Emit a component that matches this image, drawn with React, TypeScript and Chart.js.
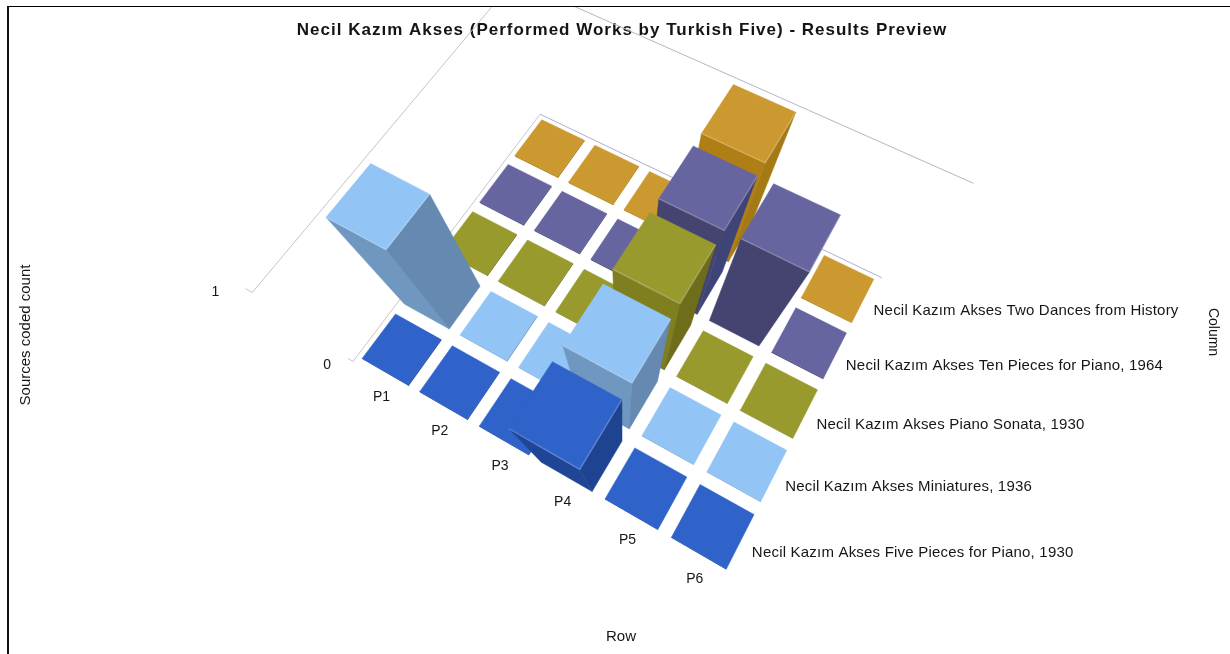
import React, { useEffect, useRef } from "react";
import { Chart, DatasetController, PointElement, LinearScale, Title } from "chart.js";

const chartTitle = "Necil Kazım Akses (Performed Works by Turkish Five) - Results Preview";
const rowLabels = ["P1", "P2", "P3", "P4", "P5", "P6"];
const seriesLabels = [
  "Necil Kazım Akses Five Pieces for Piano, 1930",
  "Necil Kazım Akses Miniatures, 1936",
  "Necil Kazım Akses Piano Sonata, 1930",
  "Necil Kazım Akses Ten Pieces for Piano, 1964",
  "Necil Kazım Akses Two Dances from History",
];
const fivePieces = [0, 0, 0, 1, 0, 0];
const miniatures = [1, 0, 0, 1, 0, 0];
const pianoSonata = [0, 0, 0, 1, 0, 0];
const tenPieces = [0, 0, 0, 1, 1, 0];
const twoDances = [0, 0, 0, 1, 0, 0];
const seriesValues = [fivePieces, miniatures, pianoSonata, tenPieces, twoDances];
const valueTicks = [0, 1];

// top, low-column side and high-row side of each series' columns
const topColors = ["#2f63c9", "#92c4f5", "#989a2e", "#66659f", "#cc9930"];
const sideAColors = ["#1f4596", "#7097bf", "#7f7f1f", "#45436f", "#af7f16"];
const sideBColors = ["#1e4390", "#6589b0", "#6e6e1a", "#3f4478", "#a57a15"];

// Perspective camera: rows 3 x 4 acting on (a, b, height, 1)
const CAMERA = [
  [291.07, 255.25, -169.3, 363],
  [153.63, -220.98, -148.4, 359],
  [-0.09907, 0.14068, -0.272, 1],
];
const CELL_GAP = 0.1;
const FLAT_HEIGHT = 0.012;
const CAMERA_ROW = 4.48;
const CANVAS_LEFT = 8;
const CANVAS_TOP = 7;
const CANVAS_WIDTH = 1228;
const CANVAS_HEIGHT = 647;

type P = { x: number; y: number };

function project(row: number, col: number, height: number): P {
  const a = (row - CELL_GAP) / (rowLabels.length - 2 * CELL_GAP);
  const b = (col - CELL_GAP) / (seriesLabels.length - 2 * CELL_GAP);
  const [r0, r1, r2] = CAMERA.map((m) => m[0] * a + m[1] * b + m[2] * height + m[3]);
  return { x: r0 / r2, y: r1 / r2 };
}

function toPixels(chart: Chart, p: P): P {
  return { x: chart.scales.x.getPixelForValue(p.x), y: chart.scales.y.getPixelForValue(p.y) };
}

function area(pts: P[]): number {
  let s = 0;
  pts.forEach((p, i) => {
    const q = pts[(i + 1) % pts.length];
    s += p.x * q.y - q.x * p.y;
  });
  return s / 2;
}

function fillFace(ctx: CanvasRenderingContext2D, pts: P[], color: string) {
  ctx.beginPath();
  pts.forEach((p, i) => (i ? ctx.lineTo(p.x, p.y) : ctx.moveTo(p.x, p.y)));
  ctx.closePath();
  ctx.fillStyle = color;
  ctx.fill();
  ctx.strokeStyle = color;
  ctx.lineWidth = 0.5;
  ctx.stroke();
}

// One dataset per series: each value becomes a perspective column over its grid cell.
// Chart.js paints datasets last to first, so the far series goes down first.
class Column3DController extends DatasetController {
  static id = "column3d";
  static defaults = { dataElementType: "point" };
  update() {}
  draw() {
    const chart = this.chart;
    const ctx = chart.ctx;
    const col = this.index;
    const values = this.getDataset().data as number[];
    const order = values
      .map((_, i) => i)
      .sort((p, q) => Math.abs(q + 0.5 - CAMERA_ROW) - Math.abs(p + 0.5 - CAMERA_ROW));
    for (const i of order) {
      const v = values[i];
      const h = Math.max(v, FLAT_HEIGHT);
      const r0 = i + CELL_GAP;
      const r1 = i + 1 - CELL_GAP;
      const c0 = col + CELL_GAP;
      const c1 = col + 1 - CELL_GAP;
      const corner = (r: number, c: number, z: number) => toPixels(chart, project(r, c, z));
      const topLeft = corner(r0, c0, h);
      const topBottom = corner(r1, c0, h);
      const topRight = corner(r1, c1, h);
      const topBack = corner(r0, c1, h);
      const sideA = [corner(r0, c0, 0), corner(r1, c0, 0), topBottom, topLeft];
      const sideB = [corner(r1, c0, 0), corner(r1, c1, 0), topRight, topBottom];
      if (area(sideA) < 0) fillFace(ctx, sideA, sideAColors[col]);
      if (area(sideB) < 0) fillFace(ctx, sideB, sideBColors[col]);
      fillFace(ctx, [topLeft, topBottom, topRight, topBack], topColors[col]);
      if (v > 0) {
        ctx.beginPath();
        ctx.moveTo(topLeft.x, topLeft.y);
        ctx.lineTo(topBottom.x, topBottom.y);
        ctx.lineTo(topRight.x, topRight.y);
        ctx.strokeStyle = "rgba(255,255,255,0.2)";
        ctx.lineWidth = 1.5;
        ctx.stroke();
      }
    }
  }
}

const FONT = '"Liberation Sans", Arial, sans-serif';

const frame3d = {
  id: "frame3d",
  beforeDraw(chart: Chart) {
    (chart.ctx as any).letterSpacing = "1px";
  },
  beforeDatasetsDraw(chart: Chart) {
    const { ctx } = chart;
    const nRows = rowLabels.length;
    const nCols = seriesLabels.length;
    const seg = (a: number[], b: number[], color: string) => {
      const p = toPixels(chart, project(a[0], a[1], a[2]));
      const q = toPixels(chart, project(b[0], b[1], b[2]));
      ctx.beginPath();
      ctx.moveTo(p.x, p.y);
      ctx.lineTo(q.x, q.y);
      ctx.strokeStyle = color;
      ctx.lineWidth = 1;
      ctx.stroke();
    };
    for (const h of valueTicks) {
      const left = h ? "#c4c4c4" : "#c9c6c6";
      const back = h ? "#b4b6c6" : "#aeb0cc";
      seg([0, 0, h], [0, nCols, h], left);
      seg([0, nCols, h], [nRows, nCols, h], back);
      seg([0, 0, h], [-0.09, 0, h], left);
    }
  },
  afterDatasetsDraw(chart: Chart) {
    const { ctx } = chart;
    const text = (s: string, p: P, align: CanvasTextAlign, size: number, spacing: number, rot = 0) => {
      ctx.save();
      ctx.font = `${size}px ${FONT}`;
      (ctx as any).letterSpacing = `${spacing}px`;
      ctx.fillStyle = "#161616";
      ctx.textAlign = align;
      ctx.textBaseline = "middle";
      ctx.translate(p.x, p.y);
      ctx.rotate(rot);
      ctx.fillText(s, 0, 0);
      ctx.restore();
    };
    rowLabels.forEach((label, i) => {
      const p = toPixels(chart, project(i + 0.5, 0, 0));
      text(label, { x: p.x, y: p.y + 19 }, "center", 14, 0);
    });
    seriesLabels.forEach((label, j) => {
      const p = toPixels(chart, project(rowLabels.length, j + 0.5, 0));
      text(label, { x: p.x + 5, y: p.y + 7 }, "left", 15, 0.2);
    });
    valueTicks.forEach((v) => {
      const p = toPixels(chart, project(0, 0, v));
      text(String(v), { x: p.x - 26 - 11 * v, y: p.y + 4 - 4 * v }, "center", 14, 0);
    });
    const sx = chart.scales.x;
    const sy = chart.scales.y;
    text("Sources coded count", { x: sx.getPixelForValue(26), y: sy.getPixelForValue(335) }, "center", 15, 0, -Math.PI / 2);
    text("Row", { x: sx.getPixelForValue(621), y: sy.getPixelForValue(637) }, "center", 15, 0);
    text("Column", { x: sx.getPixelForValue(1213), y: sy.getPixelForValue(332) }, "center", 14, 0, Math.PI / 2);
  },
};

Chart.register(Column3DController as any, PointElement, LinearScale, Title, frame3d);

export default function App() {
  const ref = useRef<HTMLCanvasElement>(null);
  useEffect(() => {
    const titleLine = 20.4;
    const chart = new Chart(ref.current!, {
      type: "column3d" as any,
      data: {
        labels: rowLabels,
        datasets: seriesLabels.map((label, j) => ({ label, data: seriesValues[j] })),
      },
      options: {
        animation: false,
        responsive: false,
        layout: { padding: 0 },
        scales: {
          x: { type: "linear", display: false, min: CANVAS_LEFT, max: CANVAS_LEFT + CANVAS_WIDTH },
          y: { type: "linear", display: false, reverse: true, min: CANVAS_TOP, max: CANVAS_TOP + CANVAS_HEIGHT },
        },
        plugins: {
          legend: { display: false },
          tooltip: { enabled: false },
          title: {
            display: true,
            text: chartTitle,
            color: "#141414",
            font: { family: FONT, size: 17, weight: "bold" },
            padding: { top: 13, bottom: -13 - titleLine },
          },
        },
      } as any,
    });
    return () => chart.destroy();
  }, []);
  return (
    <div style={{ position: "fixed", left: 0, top: 0, width: 1230, height: 654, overflow: "hidden", background: "#fff" }}>
      <div style={{ position: "absolute", left: 7, top: 6, right: -20, bottom: -20, borderLeft: "2px solid #111", borderTop: "1px solid #000" }} />
      <canvas ref={ref} width={CANVAS_WIDTH} height={CANVAS_HEIGHT} style={{ position: "absolute", left: CANVAS_LEFT, top: CANVAS_TOP, display: "block" }} />
    </div>
  );
}
